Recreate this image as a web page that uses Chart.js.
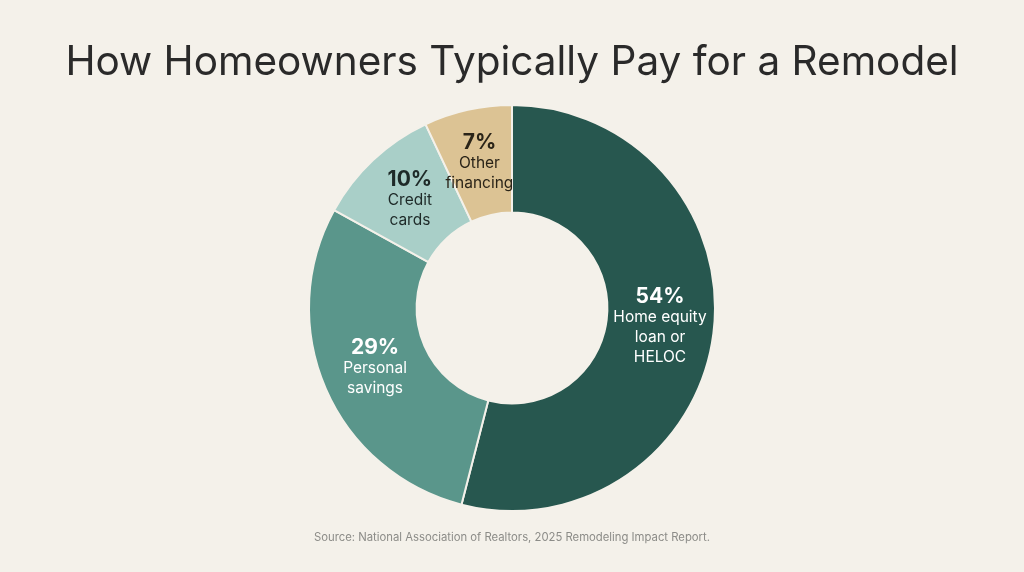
<!DOCTYPE html>
<html><head><meta charset="utf-8">
<script src="https://cdn.jsdelivr.net/npm/chart.js@4.4.0/dist/chart.umd.min.js"></script>
<style>html,body{margin:0;padding:0;background:#F4F1EA;}#wrap{width:1024px;height:572px;position:relative;}</style>
</head><body><div id="wrap"><canvas id="c" width="1024" height="572"></canvas></div>
<script>
const categories = ["Home equity loan or HELOC", "Personal savings", "Credit cards", "Other financing"];
const labelLines = [["Home equity", "loan or", "HELOC"], ["Personal", "savings"], ["Credit", "cards"], ["Other", "financing"]];
const values = [54, 29, 10, 7];
const colors = ["#27574F", "#5A968B", "#A9CFC8", "#DCC394"];
const textColors = ["#FFFFFF", "#FFFFFF", "#1E2A28", "#2A2418"];
const titleText = "How Homeowners Typically Pay for a Remodel";
const sourceText = "Source: National Association of Realtors, 2025 Remodeling Impact Report.";

const labelPlugin = {
  id: 'labels',
  afterDatasetsDraw(chart) {
    const ctx = chart.ctx;
    const meta = chart.getDatasetMeta(0);
    meta.data.forEach((arc, i) => {
      const p = arc.getCenterPoint();
      const lines = labelLines[i];
      const lh = 20;
      const total = 22 + lines.length * lh;
      let y = p.y - total / 2 + 11;
      ctx.save();
      ctx.textAlign = 'center';
      ctx.textBaseline = 'middle';
      ctx.fillStyle = textColors[i];
      ctx.font = '700 21px Inter';
      ctx.fillText(values[i] + '%', p.x, y);
      ctx.font = '400 15.5px Inter';
      y += 21;
      lines.forEach(l => { ctx.fillText(l, p.x, y); y += lh; });
      ctx.restore();
    });
  },
  afterDraw(chart) {
    const ctx = chart.ctx;
    ctx.save();
    ctx.textAlign = 'center';
    ctx.textBaseline = 'middle';
    ctx.fillStyle = '#2A2A2A';
    ctx.font = '400 40.5px Inter';
    ctx.fillText(titleText, 512, 63);
    ctx.fillStyle = '#8C8C88';
    ctx.font = '400 11.3px Inter';
    ctx.fillText(sourceText, 512, 538);
    ctx.restore();
  }
};

new Chart(document.getElementById('c'), {
  type: 'doughnut',
  data: {
    labels: categories,
    datasets: [{
      data: values,
      backgroundColor: colors,
      borderColor: '#F4F1EA',
      borderWidth: 2,
      hoverOffset: 0
    }]
  },
  options: {
    responsive: false,
    animation: false,
    cutout: '47%',
    layout: { padding: { top: 104, bottom: 60, left: 0, right: 0 } },
    plugins: { legend: { display: false }, tooltip: { enabled: false }, title: { display: false } }
  },
  plugins: [labelPlugin]
});
</script></body></html>
